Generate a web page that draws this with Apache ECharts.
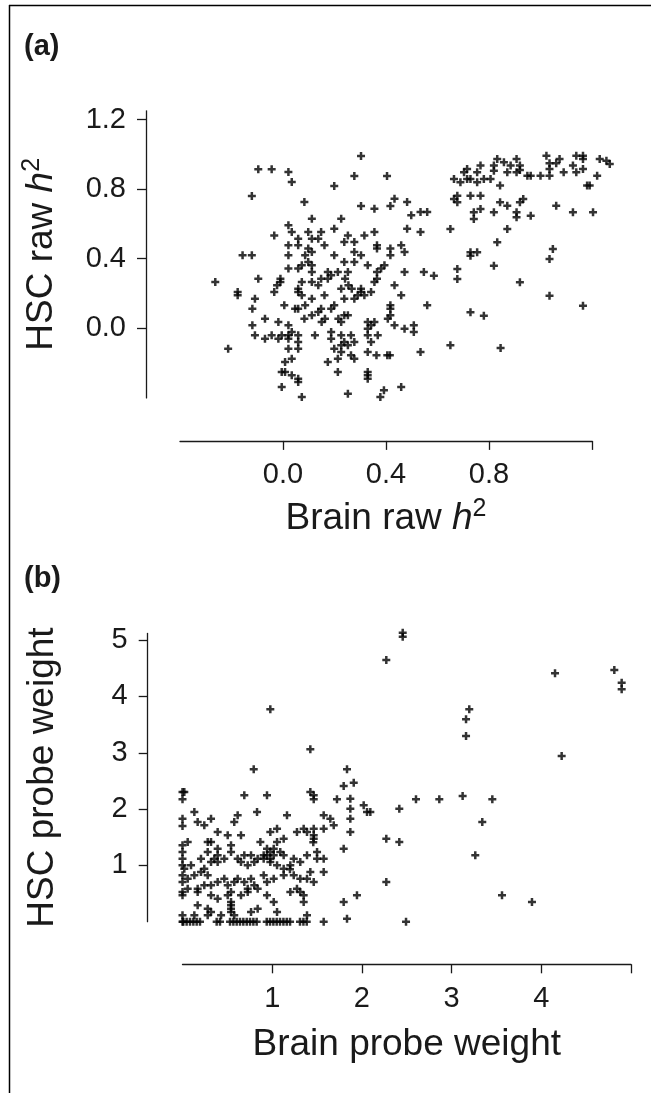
<!DOCTYPE html>
<html>
<head>
<meta charset="utf-8">
<script src="https://cdn.jsdelivr.net/npm/echarts@6.0.0/dist/echarts.min.js"></script>
<style>
html,body{margin:0;padding:0;background:#fff;}
#chart{width:651px;height:1093px;}
</style>
</head>
<body>
<div id="chart"></div>
<script>
// ---------- Panel (a): raw heritability ----------
const brainRawH2 = [
0.303,-0.096,-0.044,0.021,0.034,0.199,0.277,0.404,-0.121,0.083,0.303,0.355,0.417,0.433,0.482,0.498,0.534,0.560,0.112,0.226,
0.021,0.034,-0.034,0.059,0.098,0.112,0.148,0.137,0.199,0.252,0.277,0.316,0.355,0.482,0.534,0.021,0.059,0.021,0.086,0.098,
0.112,0.161,0.238,0.277,0.303,0.365,0.365,0.417,0.417,0.459,0.472,-0.157,-0.121,0.199,0.098,0.112,0.112,0.021,0.059,0.073,
0.238,0.277,0.329,0.394,0.381,0.365,0.472,0.547,0.174,0.187,0.213,0.252,-0.263,-0.096,-0.010,-0.010,-0.023,-0.034,0.073,0.112,
0.137,0.148,0.174,0.241,0.254,0.267,0.226,0.303,0.303,0.316,0.342,0.355,0.365,0.433,0.459,-0.176,-0.176,-0.109,0.059,0.059,
0.073,0.112,0.161,0.238,0.277,0.290,0.005,0.047,0.059,0.086,0.199,0.187,0.148,-0.119,0.417,0.417,0.560,0.083,0.112,0.137,
0.163,0.150,0.215,0.238,0.252,0.226,-0.070,-0.018,-0.119,0.021,0.329,0.355,0.342,0.329,0.407,0.417,0.433,0.472,0.508,0.508,
-0.109,-0.070,-0.044,-0.018,-0.005,0.021,0.034,0.021,0.059,0.059,0.124,0.187,0.187,0.226,0.238,0.226,0.252,0.264,0.277,0.199,
0.226,0.264,0.277,0.174,0.213,0.329,0.368,0.342,0.329,0.363,0.415,0.534,-0.213,0.021,0.059,0.034,0.008,-0.005,0.008,0.034,
0.059,0.059,0.213,0.329,0.329,0.329,-0.005,0.073,0.252,0.392,0.378,0.459,0.586,0.405,0.650,0.845,
0.832,0.858,0.884,0.907,0.920,0.920,0.819,0.819,0.767,0.754,0.715,0.703,0.871,0.907,0.664,0.689,0.715,0.728,0.754,0.780,
0.806,0.843,0.949,0.962,1.000,1.035,1.035,1.035,1.023,1.074,1.061,1.090,1.126,1.139,1.165,1.165,1.139,1.165,1.220,1.230,
1.256,1.269,1.181,1.191,0.664,0.677,0.677,0.728,0.767,0.843,0.871,0.920,0.933,0.741,0.767,0.741,0.819,0.907,0.907,0.962,
1.061,1.126,1.204,0.650,0.871,0.832,0.728,0.754,0.728,1.048,1.035,0.819,0.677,0.677,0.920,1.035,1.165,0.728,0.780
];
const hscRawH2 = [
0.990,0.914,0.914,0.898,0.841,0.818,0.875,0.875,0.760,0.726,0.703,0.687,0.703,0.745,0.726,0.649,0.668,0.668,0.630,0.630,
0.592,0.553,0.534,0.515,0.553,0.515,0.553,0.515,0.572,0.534,0.496,0.534,0.553,0.572,0.553,0.477,0.477,0.420,0.420,0.458,
0.439,0.477,0.496,0.439,0.420,0.477,0.458,0.458,0.420,0.477,0.439,0.420,0.420,0.420,0.381,0.362,0.324,0.343,0.343,0.362,
0.381,0.381,0.362,0.362,0.343,0.324,0.324,0.324,0.324,0.305,0.324,0.324,0.266,0.285,0.285,0.266,0.247,0.209,0.266,0.266,
0.247,0.285,0.285,0.285,0.247,0.228,0.228,0.228,0.209,0.190,0.209,0.266,0.285,0.247,0.190,0.209,0.190,0.170,0.228,0.209,
0.190,0.170,0.190,0.170,0.170,0.190,0.132,0.113,0.113,0.132,0.132,0.113,0.113,0.113,0.132,0.113,0.132,0.055,0.075,0.094,
0.055,0.036,0.055,0.075,0.075,0.036,0.055,0.036,0.017,0.017,0.036,0.036,0.017,-0.002,0.055,0.075,0.017,-0.002,0.017,-0.021,
-0.040,-0.060,-0.040,-0.060,-0.040,-0.040,-0.021,-0.060,-0.040,-0.079,-0.040,-0.021,-0.060,-0.040,-0.079,-0.098,-0.098,-0.040,-0.079,-0.117,
-0.136,-0.155,-0.175,-0.194,-0.175,-0.040,-0.040,-0.079,-0.136,-0.155,-0.155,-0.136,-0.117,-0.117,-0.117,-0.175,-0.194,-0.251,-0.251,-0.270,
-0.290,-0.309,-0.251,-0.251,-0.270,-0.290,-0.337,-0.395,-0.376,-0.356,-0.395,-0.337,0.302,-0.155,-0.098,-0.113,
0.973,0.954,0.935,0.973,0.935,0.910,0.935,0.906,0.935,0.897,0.916,0.897,0.897,0.897,0.858,0.839,0.858,0.858,0.839,0.858,
0.858,0.820,0.877,0.877,0.877,0.877,0.916,0.948,0.992,0.973,0.948,0.897,0.935,0.992,0.992,0.973,0.897,0.916,0.877,0.973,
0.963,0.944,0.820,0.820,0.743,0.762,0.724,0.762,0.762,0.724,0.705,0.724,0.743,0.667,0.686,0.628,0.667,0.667,0.638,0.647,
0.705,0.667,0.667,0.571,0.571,0.494,0.437,0.437,0.417,0.456,0.398,0.360,0.341,0.283,0.264,0.187,0.130,0.092,0.072
];
const xTicksA = [0, 0.4, 0.8, 1.2];
const xLabelsA = [0, 0.4, 0.8];
const yTicksA = [0, 0.4, 0.8, 1.2];

// ---------- Panel (b): probe weights ----------
const brainWeight = [
0.979,1.425,0.794,1.834,1.797,1.909,0.00,0.02,0.00,0.689,0.942,1.425,1.463,1.463,1.722,1.871,1.871,2.020,2.057,2.094,
0.132,0.00,0.00,0.169,0.243,0.318,0.615,0.577,0.831,1.165,1.574,1.648,1.686,1.871,1.871,1.797,0.392,0.504,0.652,0.979,
1.054,1.276,1.351,1.388,1.463,1.463,1.463,1.458,1.574,1.574,1.574,0.00,0.058,0.00,0.00,0.281,0.318,0.281,0.392,0.392,
0.541,0.541,0.868,0.942,0.905,0.979,0.979,1.054,1.128,1.017,1.090,1.128,1.388,1.500,0.00,0.02,0.095,0.206,0.243,0.318,
0.355,0.392,0.466,0.615,0.652,0.689,0.764,0.727,0.800,0.838,0.905,0.942,0.979,1.017,1.054,1.128,1.202,1.240,1.313,1.425,
1.500,0.00,0.058,0.132,0.206,0.281,0.00,0.058,0.169,0.243,0.318,0.392,0.466,0.504,0.577,0.615,0.689,0.764,0.727,0.800,
0.838,0.905,0.942,1.017,1.128,1.240,1.313,1.388,1.463,1.198,0.00,0.00,0.169,0.318,0.392,0.504,0.541,0.652,0.727,0.942,
1.017,1.202,1.276,1.313,1.351,1.351,1.797,1.945,1.834,0.169,0.281,0.318,0.541,0.541,0.541,0.541,0.764,0.838,1.054,1.388,
0.00,0.132,0.281,0.430,0.577,
0.00,0.009,0.046,0.084,0.121,0.158,0.195,0.381,0.418,0.530,0.567,0.604,0.641,0.678,0.716,0.753,0.790,0.827,0.939,0.976,
1.013,1.050,1.087,1.125,1.162,1.199,1.310,1.348,1.385,1.574,
2.455,2.455,2.272,4.153,4.814,4.896,4.896,3.197,3.161,3.161,4.227,2.417,2.603,2.863,3.123,3.454,3.342,2.272,2.417,3.264,
2.272,3.562,3.896,2.492
];
const hscWeight = [
3.773,3.062,2.707,2.707,2.410,2.469,2.304,2.304,2.174,2.245,2.245,2.304,2.245,2.174,2.174,2.185,2.007,2.067,1.948,1.948,
1.948,1.830,1.700,1.771,1.712,1.830,1.890,1.771,1.948,1.890,1.890,1.830,1.712,1.830,1.593,1.297,1.593,1.535,1.535,1.593,
1.652,1.593,1.652,1.593,1.652,1.535,1.474,1.410,1.652,1.119,0.883,1.357,1.416,1.238,1.119,1.416,1.416,1.238,1.297,1.179,
1.357,1.238,1.416,1.297,1.179,1.238,1.119,1.416,1.474,1.297,1.238,1.179,1.179,1.238,1.002,0.941,1.002,1.119,0.941,1.060,
1.119,1.060,1.119,1.119,1.060,1.179,1.179,1.002,1.060,1.119,1.119,1.179,1.060,1.179,1.002,0.941,1.002,1.119,1.060,0.883,
1.119,0.824,0.764,0.824,0.883,0.824,0.705,0.586,0.586,0.646,0.646,0.705,0.764,0.646,0.705,0.764,0.705,0.764,0.586,0.646,
0.586,0.824,0.705,0.764,0.824,0.824,0.764,0.764,0.705,0.930,0.528,0.469,0.528,0.469,0.409,0.469,0.528,0.469,0.528,0.469,
0.350,0.528,0.586,0.528,0.469,0.350,0.350,0.469,0.053,0.291,0.231,0.172,0.350,0.291,0.231,0.172,0.172,0.231,0.172,0.113,
0.113,0.113,0.113,0.113,0.113,
0,0,0,0,0,0,0,0,0,0,0,0,0,0,0,0,0,0,0,0,
0,0,0,0,0,0,0,0,0,0,
5.133,5.062,4.648,4.412,4.471,4.245,4.127,3.773,3.595,3.298,2.943,2.007,2.174,2.174,2.233,2.174,1.771,1.474,1.416,1.179,
0.705,0.469,0.350,0.0
];
const xTicksB = [1, 2, 3, 4, 5];
const xLabelsB = [1, 2, 3, 4];
const yTicksB = [1, 2, 3, 4, 5];

// ---------- chart ----------
const FONT = '"Liberation Sans", Arial, Helvetica, sans-serif';
const INK = '#1a1a1a';
const CROSS = 'path://M2.75,0H5.25V2.75H8V5.25H5.25V8H2.75V5.25H0V2.75H2.75Z';

function pairs(xs, ys) { return xs.map((x, i) => [x, ys[i]]); }

const lineStyle = { color: INK, width: 1.3 };
function baseAxis(extra) {
  return Object.assign({
    type: 'value',
    splitLine: { show: false },
    axisLine: { show: true, onZero: false, lineStyle: lineStyle },
  }, extra);
}
const nameRich = {
  n: { fontFamily: FONT, fontSize: 37, color: INK, lineHeight: 44 },
  i: { fontFamily: FONT, fontSize: 37, color: INK, fontStyle: 'italic', lineHeight: 44 },
  s: { fontFamily: FONT, fontSize: 25, color: INK, lineHeight: 30, verticalAlign: 'top' }
};

const chart = echarts.init(document.getElementById('chart'), null, { renderer: 'canvas' });
chart.setOption({
  animation: false,
  backgroundColor: '#ffffff',
  grid: [
    { left: 180, top: 110.8, width: 412, height: 287.1, containLabel: false, outerBoundsMode: 'none' },
    { left: 182.5, top: 633.4, width: 448.5, height: 288.3, containLabel: false, outerBoundsMode: 'none' }
  ],
  xAxis: [
    baseAxis({
      gridIndex: 0, min: -0.4, max: 1.2, position: 'bottom', offset: 43,
      axisTick: { show: true, length: 9, customValues: xTicksA, lineStyle: lineStyle },
      axisLabel: { customValues: xLabelsA, formatter: v => v.toFixed(1), fontSize: 29, margin: 20, color: INK, fontFamily: FONT },
      name: '{n|Brain raw }{i|h}{s|2}', nameLocation: 'middle', nameGap: 56,
      nameTextStyle: { rich: nameRich }
    }),
    baseAxis({
      gridIndex: 1, min: 0, max: 5, position: 'bottom', offset: 42.6,
      axisTick: { show: true, length: 9, customValues: xTicksB, lineStyle: lineStyle },
      axisLabel: { customValues: xLabelsB, formatter: v => String(v), fontSize: 29, margin: 20, color: INK, fontFamily: FONT },
      name: 'Brain probe weight', nameLocation: 'middle', nameGap: 62,
      nameTextStyle: { fontFamily: FONT, fontSize: 37, color: INK }
    })
  ],
  yAxis: [
    baseAxis({
      gridIndex: 0, min: -0.4, max: 1.25, position: 'left', offset: 34,
      axisTick: { show: true, length: 9, customValues: yTicksA, lineStyle: lineStyle },
      axisLabel: { customValues: yTicksA, formatter: v => v.toFixed(1), fontSize: 29, margin: 20, color: INK, fontFamily: FONT },
      name: '{n|HSC raw }{i|h}{s|2}', nameLocation: 'middle', nameGap: 82, nameRotate: 90,
      nameTextStyle: { rich: nameRich }
    }),
    baseAxis({
      gridIndex: 1, min: 0, max: 5.12, position: 'left', offset: 34.8,
      axisTick: { show: true, length: 9, customValues: yTicksB, lineStyle: lineStyle },
      axisLabel: { customValues: yTicksB, formatter: v => String(v), fontSize: 29, margin: 20, color: INK, fontFamily: FONT },
      name: 'HSC probe weight', nameLocation: 'middle', nameGap: 86, nameRotate: 90,
      nameTextStyle: { fontFamily: FONT, fontSize: 37, color: INK }
    })
  ],
  series: [
    { type: 'scatter', xAxisIndex: 0, yAxisIndex: 0, clip: false, symbol: CROSS, symbolSize: 8,
      itemStyle: { color: '#000' }, data: pairs(brainRawH2, hscRawH2) },
    { type: 'scatter', xAxisIndex: 1, yAxisIndex: 1, clip: false, symbol: CROSS, symbolSize: 8,
      itemStyle: { color: '#000' }, data: pairs(brainWeight, hscWeight) }
  ],
  graphic: [
    { type: 'line', shape: { x1: 9.5, y1: 5, x2: 9.5, y2: 1093 }, style: { stroke: '#000', lineWidth: 1.5 } },
    { type: 'line', shape: { x1: 9, y1: 5.5, x2: 651, y2: 5.5 }, style: { stroke: '#000', lineWidth: 1.5 } },
    { type: 'text', left: 24, top: 32, style: { text: '(a)', fontFamily: FONT, fontSize: 29, fontWeight: 'bold', fill: INK } },
    { type: 'text', left: 24, top: 564, style: { text: '(b)', fontFamily: FONT, fontSize: 29, fontWeight: 'bold', fill: INK } }
  ]
});
</script>
</body>
</html>
